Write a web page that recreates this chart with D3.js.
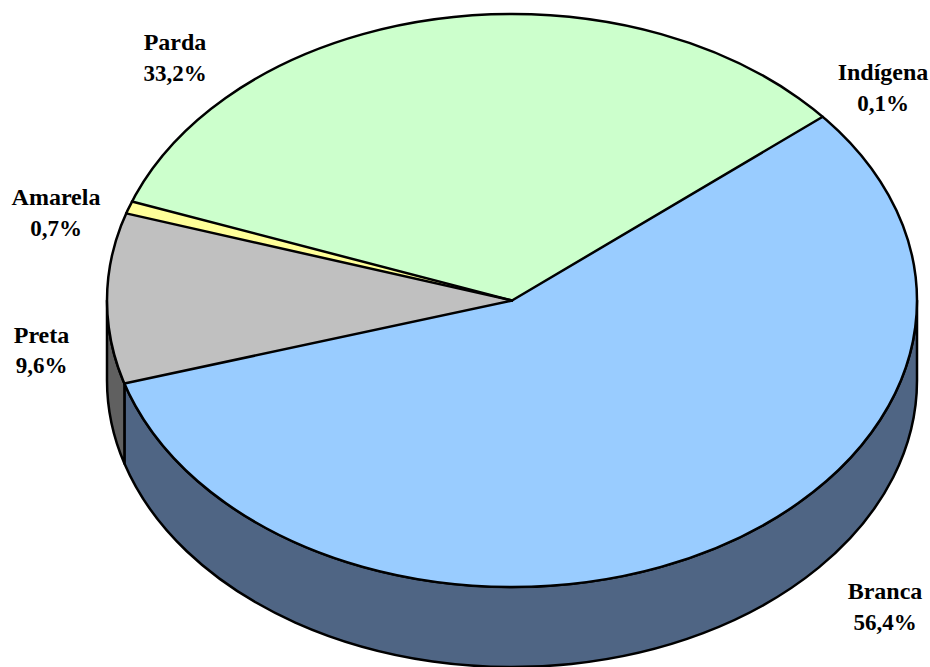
<!DOCTYPE html>
<html><head><meta charset="utf-8">
<script src="https://cdn.jsdelivr.net/npm/d3@7"></script>
<style>html,body{margin:0;padding:0;background:#fff}svg{display:block}</style>
</head><body><svg id="c" width="930" height="667"></svg>
<script>
const categories = ["Branca","Preta","Amarela","Parda","Indígena"];
const values = [56.4,9.6,0.7,33.2,0.1];
const valueLabels = ["56,4%","9,6%","0,7%","33,2%","0,1%"];
const topColors = ["#99ccff","#c0c0c0","#ffff99","#ccffcc","#ccffcc"];
const wallColors = ["#4f6584","#606060","#80804d","#667f66","#667f66"];
const labelX = [885,41.5,56,175,883];
const labelY = [599,343,205,50,80];
const valueY = [630,373,236,81,111];

const W=930,H=667,cx=512,cy=300.5,rx=405,ry=286.5,depth=80,sw=2.5;
const k=ry/rx, rad=Math.PI/180;
const svg=d3.select("#c");
const pie=d3.pie().sort(null).startAngle(50.1*rad).endAngle((50.1+360)*rad);
const arcs=pie(values);
const g=svg.append("g").attr("transform",`translate(${cx},${cy}) scale(1,${k})`);
const dz=depth/k;
const stroke=s=>s.attr("stroke","#000").attr("stroke-width",sw).attr("stroke-linejoin","round")
  .attr("stroke-linecap","round").attr("vector-effect","non-scaling-stroke");

// side walls (visible front half only)
const lo=90*rad, hi=270*rad;
function wall(a,b){
  const p=d3.path();
  p.arc(0,0,rx,a-Math.PI/2,b-Math.PI/2,false);
  p.lineTo(rx*Math.sin(b),-rx*Math.cos(b)+dz);
  p.arc(0,dz,rx,b-Math.PI/2,a-Math.PI/2,true);
  p.closePath();
  return p.toString();
}
arcs.forEach((d,i)=>{
  const a=Math.max(d.startAngle,lo), b=Math.min(d.endAngle,hi);
  if(b>a) g.append("path").attr("d",wall(a,b)).attr("fill",wallColors[i]).call(stroke);
});
// top faces: fills
const arc=d3.arc().innerRadius(0).outerRadius(rx);
g.selectAll("path.top").data(arcs).join("path").attr("class","top")
 .attr("d",arc).attr("fill",(d,i)=>topColors[i]).attr("stroke",(d,i)=>topColors[i])
 .attr("stroke-width",1).attr("vector-effect","non-scaling-stroke");
// radial edges; Parda and Indígena meet in a single visible line
g.selectAll("line.edge").data(arcs.filter((d,i)=>i!==4)).join("line").attr("class","edge")
 .attr("x1",0).attr("y1",0)
 .attr("x2",d=>rx*Math.sin(d.startAngle)).attr("y2",d=>-rx*Math.cos(d.startAngle)).call(stroke);
// rim
g.append("circle").attr("r",rx).attr("fill","none").call(stroke);
// labels
const t=svg.selectAll("text").data(categories).join("text")
 .attr("text-anchor","middle").attr("font-family","'Liberation Serif',serif")
 .attr("font-weight","bold").attr("fill","#000");
t.append("tspan").attr("font-size",24).attr("x",(d,i)=>labelX[i]).attr("y",(d,i)=>labelY[i]).text(d=>d);
t.append("tspan").attr("font-size",23).attr("x",(d,i)=>labelX[i]).attr("y",(d,i)=>valueY[i]).text((d,i)=>valueLabels[i]);
</script></body></html>
